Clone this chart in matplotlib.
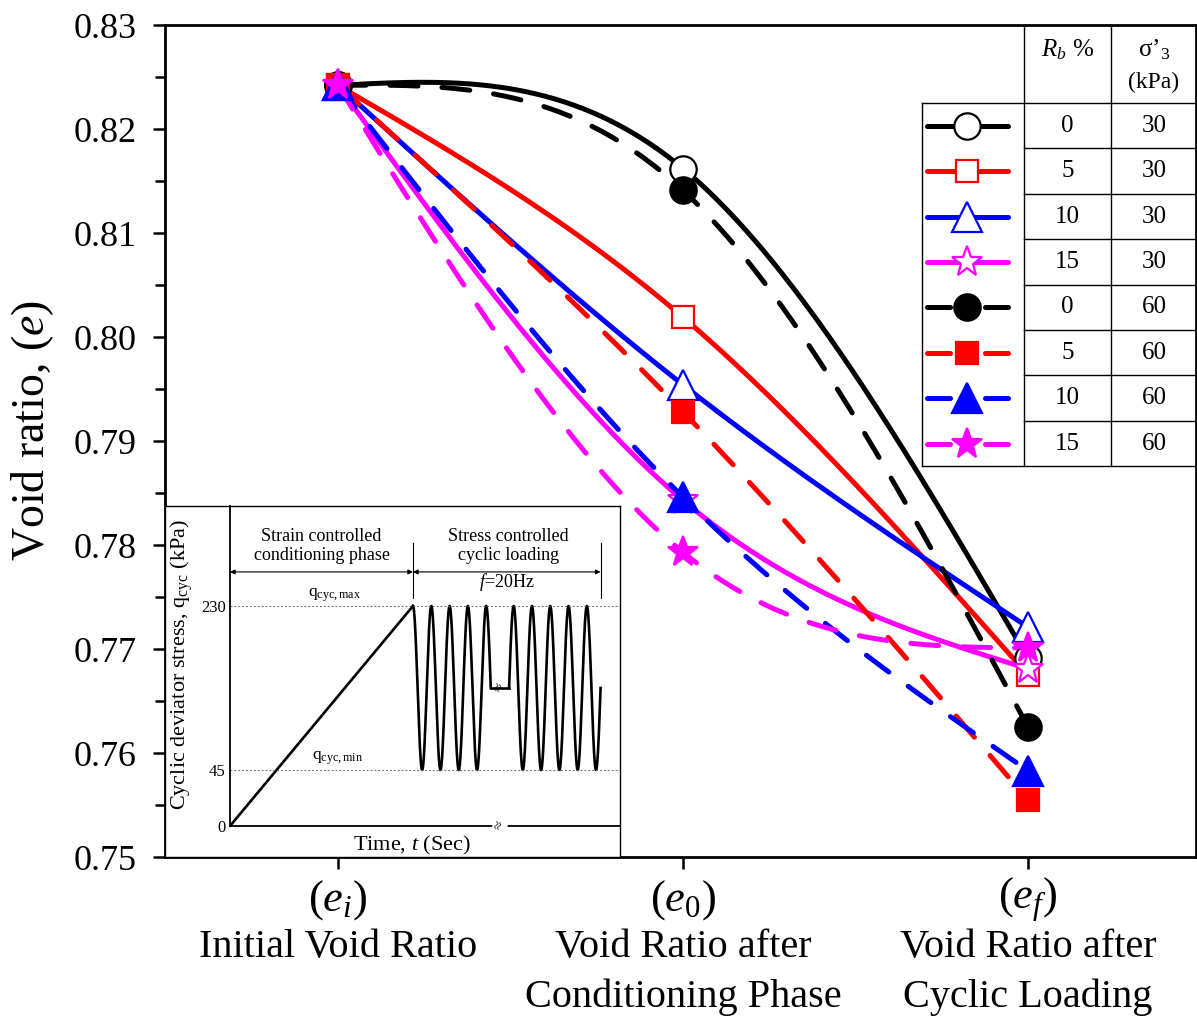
import numpy as np
import matplotlib
matplotlib.use("Agg")
import matplotlib.pyplot as plt

plt.rcParams['font.family'] = ['Liberation Serif', 'DejaVu Serif']
plt.rcParams['mathtext.fontset'] = 'custom'
plt.rcParams['mathtext.rm'] = 'Liberation Serif'
plt.rcParams['mathtext.it'] = 'Liberation Serif:italic'

# ---- data -------------------------------------------------------------
stages = [1, 2, 3]
stage_symbols = [r'$(e_i)$', r'$(e_{\mathit{0}})$', r'$(e_f)$']
stage_names = [['Initial Void Ratio'],
               ['Void Ratio after', 'Conditioning Phase'],
               ['Void Ratio after', 'Cyclic Loading']]

rb_pct = [0, 5, 10, 15, 0, 5, 10, 15]
sigma3 = [30, 30, 30, 30, 60, 60, 60, 60]
void_ratio = [
    [0.8242, 0.8162, 0.7691],   # 0 %, 30 kPa
    [0.8242, 0.8019, 0.7675],   # 5 %, 30 kPa
    [0.8242, 0.7954, 0.7721],   # 10 %, 30 kPa
    [0.8242, 0.7843, 0.7681],   # 15 %, 30 kPa
    [0.8242, 0.8141, 0.7625],   # 0 %, 60 kPa
    [0.8242, 0.7928, 0.7555],   # 5 %, 60 kPa
    [0.8242, 0.7846, 0.7583],   # 10 %, 60 kPa
    [0.8242, 0.7793, 0.7701],   # 15 %, 60 kPa
]

# inset schematic (cyclic loading protocol)
q_max, q_min = 230, 45
t_ramp = 10.0
period = 1.0
n_cycles_a = 4.25
break_len = 1.0
n_cycles_b = 5.0

# ---- styles -----------------------------------------------------------
colors = ['black', 'red', 'blue', 'magenta'] * 2
markers = ['o', 's', '^', '*'] * 2
msizes = {'o': 19, 's': 16, '^': 21, '*': 23}
LW = 3.6
DASH = (5.6, 4.8)


def natural_spline(xp, yp, n=300):
    xp = np.asarray(xp, float)
    yp = np.asarray(yp, float)
    k = len(xp)
    h = np.diff(xp)
    A = np.zeros((k, k))
    b = np.zeros(k)
    A[0, 0] = A[-1, -1] = 1
    for i in range(1, k - 1):
        A[i, i - 1] = h[i - 1]
        A[i, i] = 2 * (h[i - 1] + h[i])
        A[i, i + 1] = h[i]
        b[i] = 6 * ((yp[i + 1] - yp[i]) / h[i] - (yp[i] - yp[i - 1]) / h[i - 1])
    M = np.linalg.solve(A, b)
    xs = np.linspace(xp[0], xp[-1], n)
    idx = np.clip(np.searchsorted(xp, xs) - 1, 0, k - 2)
    x0, x1 = xp[idx], xp[idx + 1]
    hh = h[idx]
    ys = (M[idx] * (x1 - xs) ** 3 / (6 * hh) + M[idx + 1] * (xs - x0) ** 3 / (6 * hh)
          + (yp[idx] / hh - M[idx] * hh / 6) * (x1 - xs)
          + (yp[idx + 1] / hh - M[idx + 1] * hh / 6) * (xs - x0))
    return xs, ys


W, H = 1197, 1019
fig = plt.figure(figsize=(W / 100, H / 100), dpi=100)
ax = fig.add_axes([165 / W, 1 - 857 / H, (1196 - 165) / W, (857 - 25) / H])

for i, vals in enumerate(void_ratio):
    c, m = colors[i], markers[i]
    dashed = sigma3[i] == 60
    xs, ys = natural_spline(stages, vals)
    ln, = ax.plot(xs, ys, color=c, lw=LW, solid_capstyle='round',
                  dash_capstyle='round', zorder=2 + i * 0.1)
    if dashed:
        ln.set_dashes(DASH)
    face = c if dashed else 'white'
    ax.plot(stages, vals, ls='none', marker=m, ms=msizes[m], mfc=face,
            mec=c, mew=1.6, zorder=3 + i * 0.1, clip_on=False)

ax.set_xlim(0.4986, 3.487)
ax.set_ylim(0.75, 0.83)
ax.set_yticks(np.arange(0.75, 0.8301, 0.01))
ax.set_yticks(np.arange(0.755, 0.83, 0.01), minor=True)
ax.yaxis.set_major_formatter(matplotlib.ticker.FormatStrFormatter('%.2f'))
ax.set_xticks(stages)
ax.set_xticklabels([])
ax.tick_params(axis='y', which='major', direction='out', length=8.5, width=1.8,
               labelsize=26, pad=12)
ax.tick_params(axis='y', which='minor', direction='out', length=7, width=1.8)
ax.tick_params(axis='x', direction='out', length=8.5, width=1.8)
for s in ax.spines.values():
    s.set_linewidth(2.0)

xtr = ax.get_xaxis_transform()
for xi, sym, lines in zip(stages, stage_symbols, stage_names):
    ax.text(xi, (857 - 900) / 832, sym, transform=xtr, ha='center', va='center',
            fontsize=32)
    for j, line in enumerate(lines):
        ax.text(xi, (857 - 948 - 49 * j) / 832, line, transform=xtr,
                ha='center', va='center', fontsize=29)

fig.text(33 / W, 1 - 430 / H, r'Void ratio, ($e$)', rotation=90, ha='center',
         va='center', fontsize=33)

# ---- legend table ------------------------------------------------------
ov = fig.add_axes([0, 0, 1, 1])
ov.set_xlim(0, W)
ov.set_ylim(H, 0)
ov.axis('off')
ov.set_zorder(6)

row_top, row_h = 103, 45.4
n_rows = len(rb_pct)
row_bot = row_top + n_rows * row_h
c0, c1, c2, c3 = 922, 1024, 1111, 1197
tkw = dict(color='black', lw=1.0)
ov.plot([c1, c1], [25, row_bot], **tkw)
ov.plot([c2, c2], [25, row_bot], **tkw)
ov.plot([c0, c0], [row_top, row_bot], **tkw)
ov.plot([c0, c3], [row_top, row_top], **tkw)
ov.plot([c0, c3], [row_bot, row_bot], **tkw)
for k in range(1, n_rows):
    yk = row_top + k * row_h
    ov.plot([c1, c3], [yk, yk], **tkw)

ov.text((c1 + c2) / 2, 50, r'$R_b$ %', ha='center', va='center', fontsize=18)
ov.text((c2 + c3) / 2, 50, "\u03c3\u2019$_3$", ha='center', va='center', fontsize=18)
ov.text((c2 + c3) / 2, 82, '(kPa)', ha='center', va='center', fontsize=17)

for k in range(n_rows):
    yc = row_top + (k + 0.5) * row_h
    ov.text((c1 + c2) / 2, yc, str(rb_pct[k]), ha='center', va='center', fontsize=18)
    ov.text((c2 + c3) / 2, yc, str(sigma3[k]), ha='center', va='center', fontsize=18)
    c, m = colors[k], markers[k]
    dashed = sigma3[k] == 60
    if dashed:
        ov.plot([927, 950], [yc, yc], color=c, lw=LW, solid_capstyle='round')
        ov.plot([985, 1008], [yc, yc], color=c, lw=LW, solid_capstyle='round')
    else:
        ov.plot([927, 1008], [yc, yc], color=c, lw=LW, solid_capstyle='round')
    ov.plot([967], [yc], ls='none', marker=m, ms=msizes[m],
            mfc=c if dashed else 'white', mec=c, mew=1.6)

# ---- inset schematic ---------------------------------------------------
ibox = fig.add_axes([165 / W, 1 - 857 / H, 455 / W, 351 / H])
ibox.set_xticks([])
ibox.set_yticks([])
ibox.set_facecolor('white')
for s in ibox.spines.values():
    s.set_linewidth(1.0)
ibox.set_zorder(3)

ins = fig.add_axes([230 / W, 1 - 826 / H, 390 / W, 320 / H])
ins.set_zorder(4)
ins.patch.set_alpha(0)
Q_KNOTS = [0, 45, 230, 400]
D_KNOTS = [0, 56, 220, 320]
ins.set_yscale('function', functions=(lambda q: np.interp(q, Q_KNOTS, D_KNOTS),
                                      lambda d: np.interp(d, D_KNOTS, Q_KNOTS)))
q_mid = (q_max + q_min) / 2
amp = (q_max - q_min) / 2
t_a0, t_a1 = t_ramp, t_ramp + n_cycles_a * period
t_b0 = t_a1 + break_len
t_b1 = t_b0 + n_cycles_b * period
ta = np.linspace(t_a0, t_a1, 400)
tb = np.linspace(t_b0, t_b1, 400)
lkw = dict(color='black', lw=1.9)
ins.plot([0, t_ramp], [0, q_max], **lkw)
ins.plot(ta, q_mid + amp * np.cos(2 * np.pi * (ta - t_a0) / period), **lkw)
ins.plot([t_a1, t_b0], [q_mid, q_mid], **lkw)
ins.plot(tb, q_mid + amp * np.cos(2 * np.pi * (tb - t_b0) / period - np.pi / 2), **lkw)

t_end = (620 - 230) / 18.3
ins.set_xlim(0, t_end)
ins.set_ylim(0, 400)
for q in (q_max, q_min):
    ins.plot([0, t_end], [q, q], color='dimgray', lw=0.7, ls=(0, (2, 2)))
ins.spines['top'].set_visible(False)
ins.spines['right'].set_visible(False)
ins.spines['left'].set_linewidth(1.3)
ins.spines['bottom'].set_linewidth(1.3)
ins.set_xticks([])
ins.set_yticks([0, q_min, q_max])
ins.set_yticklabels(['0', str(q_min), str(q_max)])
ins.yaxis.set_minor_locator(matplotlib.ticker.NullLocator())
ins.tick_params(axis='y', length=0, pad=3, labelsize=12)

t_brk = (t_a1 + t_b0) / 2
ins.text(t_brk, q_mid, '\u2248', rotation=70, ha='center', va='center', fontsize=11)
ins.text(t_brk, 0, '\u2248', rotation=70, ha='center', va='center', fontsize=11,
         clip_on=False, bbox=dict(facecolor='white', edgecolor='none', pad=0.5))

atr = ins.get_xaxis_transform()
for tv in (t_ramp, t_b1):
    ins.plot([tv, tv], [0.7125, 0.884], transform=atr, color='black', lw=0.8,
             clip_on=False)
ins.annotate('', xy=(0, 0.794), xytext=(t_ramp, 0.794), xycoords=atr, textcoords=atr,
             arrowprops=dict(arrowstyle='<|-|>', lw=0.8, color='black',
                             mutation_scale=7, shrinkA=0, shrinkB=0))
ins.annotate('', xy=(t_ramp, 0.794), xytext=(t_b1, 0.794), xycoords=atr, textcoords=atr,
             arrowprops=dict(arrowstyle='<|-|>', lw=0.8, color='black',
                             mutation_scale=7, shrinkA=0, shrinkB=0))
ins.text(t_ramp / 2, 0.875, 'Strain controlled\nconditioning phase', transform=atr,
         ha='center', va='center', fontsize=13, linespacing=1.15)
ins.text((t_ramp + t_b1) / 2 + 0.1, 0.875, 'Stress controlled\ncyclic loading',
         transform=atr, ha='center', va='center', fontsize=13, linespacing=1.15)
ins.text((t_ramp + t_b1) / 2, 0.7625, r'$f$=20Hz', transform=atr, ha='center',
         va='center', fontsize=13)
ins.text(5.7, q_max + 4, r'q$_{\rm cyc,max}$', ha='center', va='bottom', fontsize=12.5)
ins.text(5.9, q_min + 3, r'q$_{\rm cyc,min}$', ha='center', va='bottom', fontsize=12.5)

fig.text(412 / W, 1 - 845 / H, r'Time, $t$ (Sec)', ha='center', va='center', fontsize=16)
fig.text(182 / W, 1 - 665 / H, r'Cyclic deviator stress, q$_{\rm cyc}$ (kPa)',
         rotation=90, ha='center', va='center', fontsize=16)

fig.savefig('out.png', dpi=100)
